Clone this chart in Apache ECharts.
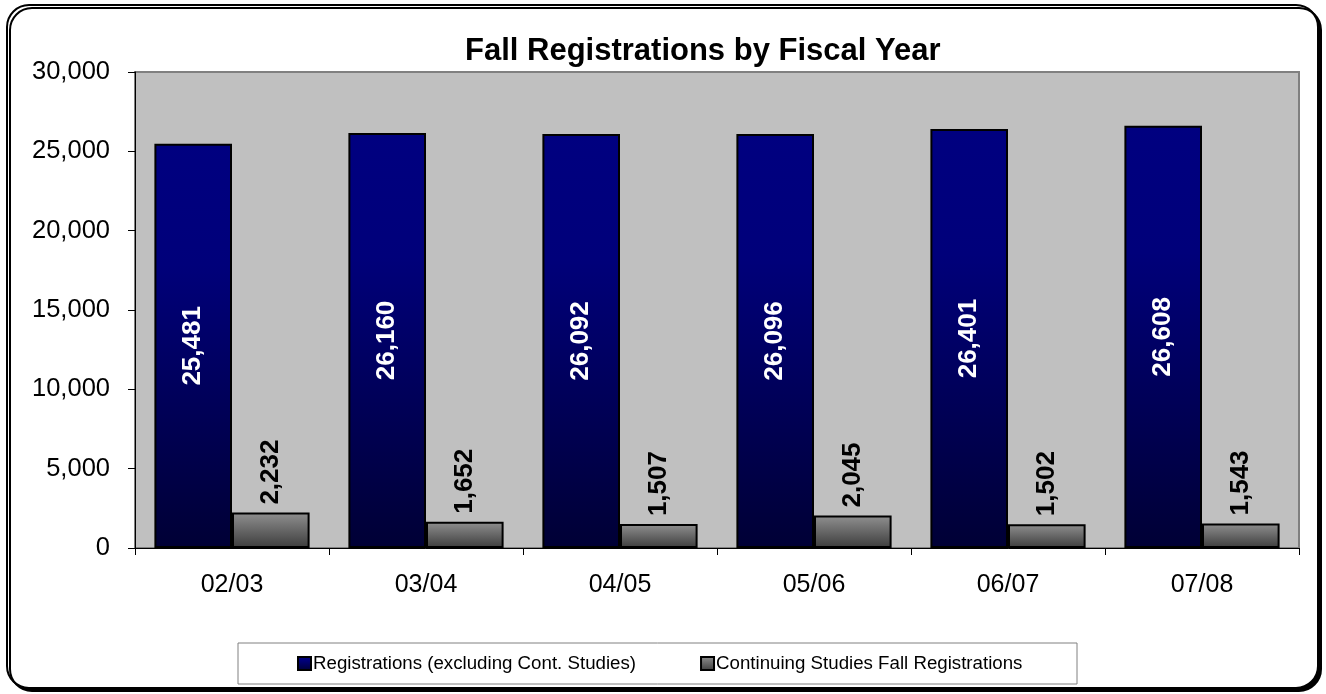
<!DOCTYPE html>
<html>
<head>
<meta charset="utf-8">
<script src="https://cdn.jsdelivr.net/npm/echarts@6/dist/echarts.min.js"></script>
<style>html,body{margin:0;padding:0;background:#fff}#c{width:1326px;height:694px}</style>
</head>
<body>
<div id="c"></div>
<script>
var categories = ['02/03', '03/04', '04/05', '05/06', '06/07', '07/08'];
var registrations = [25481, 26160, 26092, 26096, 26401, 26608];
var contStudies = [2232, 1652, 1507, 2045, 1502, 1543];
var seriesNames = ['Registrations (excluding Cont. Studies)', 'Continuing Studies Fall Registrations'];
var titleText = 'Fall Registrations by Fiscal Year';

var FONT = 'Arial, "Liberation Sans", sans-serif';
function fmt(v) { return Number(v).toLocaleString('en-US'); }

var chart = echarts.init(document.getElementById('c'), null, { renderer: 'canvas' });
chart.setOption({
  animation: false,
  backgroundColor: 'transparent',
  title: {
    text: titleText,
    left: 465, top: 36,
    padding: 0,
    textStyle: { fontFamily: FONT, fontSize: 31, fontWeight: 'bold', color: '#000' }
  },
  graphic: {
    elements: [
      {
        type: 'rect', z: -100,
        shape: { x: 7, y: 5, width: 1311, height: 683, r: 22 },
        style: { fill: '#fff', stroke: '#000', lineWidth: 2,
                 shadowColor: '#000', shadowOffsetX: 3, shadowOffsetY: 3, shadowBlur: 0 }
      },
      {
        type: 'rect', z: -50,
        shape: { x: 238, y: 643, width: 839, height: 41 },
        style: { fill: '#fff', stroke: '#808080', lineWidth: 1 }
      }
    ]
  },
  legend: {
    left: 297, top: 654,
    padding: 0,
    itemGap: 64,
    itemWidth: 13, itemHeight: 13,
    icon: 'rect',
    textStyle: { fontFamily: FONT, fontSize: 18.7, color: '#000', padding: [0, 0, 0, -3] },
    data: seriesNames
  },
  grid: {
    left: 135, right: 27, top: 72, bottom: 146,
    show: true, backgroundColor: '#C0C0C0', borderColor: '#808080', borderWidth: 2,
    containLabel: false
  },
  xAxis: {
    type: 'category',
    data: categories,
    axisLine: { show: true, lineStyle: { color: '#000', width: 1 } },
    axisTick: { show: true, length: 7, interval: 0, alignWithLabel: false, lineStyle: { color: '#000' } },
    axisLabel: { fontFamily: FONT, fontSize: 25, color: '#000', margin: 25, interval: 0 },
    splitLine: { show: false }
  },
  yAxis: {
    type: 'value',
    min: 0, max: 30000, interval: 5000,
    axisLine: { show: true, lineStyle: { color: '#000', width: 1 } },
    axisTick: { show: true, length: 7, lineStyle: { color: '#000' } },
    axisLabel: { fontFamily: FONT, fontSize: 25.5, color: '#000', margin: 25, formatter: fmt },
    splitLine: { show: false }
  },
  series: [
    {
      name: seriesNames[0],
      type: 'bar',
      data: registrations,
      barGap: '0%',
      barCategoryGap: '20%',
      itemStyle: {
        borderColor: '#000', borderWidth: 2,
        color: new echarts.graphic.LinearGradient(0, 0, 0, 1, [
          { offset: 0, color: '#000080' },
          { offset: 0.3, color: '#00007a' },
          { offset: 1, color: '#000035' }
        ])
      },
      label: {
        show: true, position: 'inside', rotate: 90,
        fontFamily: FONT, fontSize: 26, fontWeight: 'bold', color: '#fff',
        formatter: function (p) { return fmt(p.value); }
      }
    },
    {
      name: seriesNames[1],
      type: 'bar',
      data: contStudies,
      barGap: '0%',
      barCategoryGap: '20%',
      itemStyle: {
        borderColor: '#000', borderWidth: 2,
        color: new echarts.graphic.LinearGradient(0, 0, 0, 1, [
          { offset: 0, color: '#909090' },
          { offset: 1, color: '#3c3c3c' }
        ])
      },
      label: {
        show: true, position: 'top', rotate: 90, align: 'left', verticalAlign: 'middle',
        distance: 8,
        fontFamily: FONT, fontSize: 26, fontWeight: 'bold', color: '#000',
        formatter: function (p) { return fmt(p.value); }
      }
    }
  ]
});
</script>
</body>
</html>
